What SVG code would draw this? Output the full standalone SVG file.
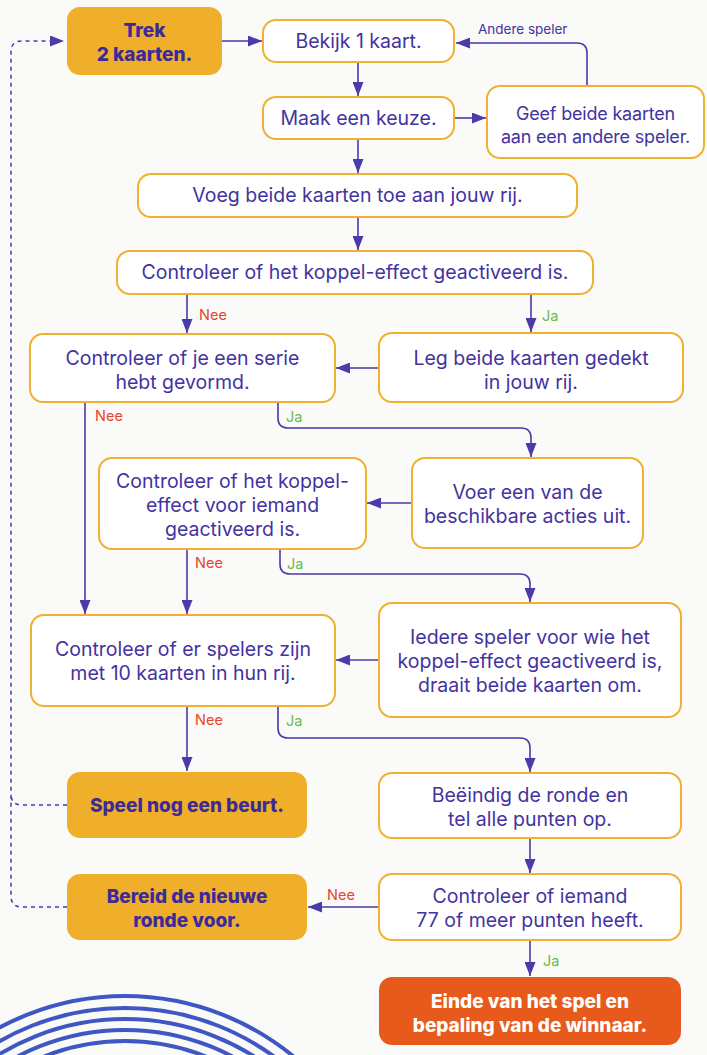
<svg xmlns="http://www.w3.org/2000/svg" width="707" height="1055" viewBox="0 0 707 1055">
<defs>
<style>
.box{fill:#FFFFFF;stroke:#F0B12E;stroke-width:2}
.obox{fill:#F0AF2B;stroke:none}
.rbox{fill:#E85A1C;stroke:none}
.t{font-family:Inter,"Open Sans",sans-serif;font-size:19.5px;fill:#43339F;text-anchor:middle}
.s{font-size:18px;letter-spacing:-0.2px}
.b{font-family:Inter,"Open Sans",sans-serif;font-size:19px;font-weight:800;fill:#3D2A99;text-anchor:middle}
.w{font-family:Inter,"Open Sans",sans-serif;font-size:19px;font-weight:800;fill:#FFFFFF;text-anchor:middle}
.c{fill:none;stroke:#4A3AAA;stroke-width:1.6}
.d{fill:none;stroke:#4A3AAA;stroke-width:1.5;stroke-dasharray:4 4}
.nee{font-family:Inter,"Open Sans",sans-serif;font-size:14.5px;fill:#E8452D}
.ja{font-family:Inter,"Open Sans",sans-serif;font-size:14.5px;fill:#6CBB4A}
.lbl{font-family:Inter,"Open Sans",sans-serif;font-size:13.5px;fill:#43339F}
.wave{fill:none;stroke:#3E57C4;stroke-width:4}
</style>
<marker id="ah" markerUnits="userSpaceOnUse" markerWidth="14" markerHeight="11" refX="14" refY="5.5" orient="auto">
<path d="M0,0 L14,5.5 L0,11 z" fill="#4A3AAA"/>
</marker>
</defs>
<rect width="707" height="1055" fill="#FAFAF8"/>
<g id="decor">
<path class="wave" d="M-140,1261 A265,265 0 0 1 390,1261"/>
<path class="wave" d="M-128,1261 A253,253 0 0 1 378,1261"/>
<path class="wave" d="M-117,1261 A242,242 0 0 1 367,1261"/>
<path class="wave" d="M-106,1261 A231,231 0 0 1 356,1261"/>
<path class="wave" d="M-95,1261 A220,220 0 0 1 345,1261"/>
</g>
<g id="connectors">
<path class="c" d="M222,41 H262" marker-end="url(#ah)"/>
<path class="c" d="M358,62 V96" marker-end="url(#ah)"/>
<path class="c" d="M454,118 H486" marker-end="url(#ah)"/>
<path class="c" d="M587,86 V53 Q587,43 577,43 H456" marker-end="url(#ah)"/>
<path class="c" d="M358,139 V173" marker-end="url(#ah)"/>
<path class="c" d="M358,217 V250" marker-end="url(#ah)"/>
<path class="c" d="M187,294 V333" marker-end="url(#ah)"/>
<path class="c" d="M531,294 V332" marker-end="url(#ah)"/>
<path class="c" d="M379,368 H336" marker-end="url(#ah)"/>
<path class="c" d="M85,402 V614" marker-end="url(#ah)"/>
<path class="c" d="M278,402 V418 Q278,428 288,428 H521 Q531,428 531,438 V457" marker-end="url(#ah)"/>
<path class="c" d="M412,503 H367" marker-end="url(#ah)"/>
<path class="c" d="M187,549 V614" marker-end="url(#ah)"/>
<path class="c" d="M280,549 V564 Q280,574 290,574 H520 Q530,574 530,584 V602" marker-end="url(#ah)"/>
<path class="c" d="M379,660 H336" marker-end="url(#ah)"/>
<path class="c" d="M187,706 V771" marker-end="url(#ah)"/>
<path class="c" d="M278,706 V728 Q278,738 288,738 H520 Q530,738 530,748 V772" marker-end="url(#ah)"/>
<path class="c" d="M530,838 V873" marker-end="url(#ah)"/>
<path class="c" d="M379,907 H308" marker-end="url(#ah)"/>
<path class="c" d="M530,940 V976" marker-end="url(#ah)"/>
<path class="d" d="M67,907 H22 Q11,907 11,896 V52 Q11,41 22,41 H64" marker-end="url(#ah)"/>
<path class="d" d="M67,805 H22 Q11,805 11,794"/>
<text class="lbl" x="478" y="34">Andere speler</text>
<text class="nee" x="199" y="320">Nee</text>
<text class="ja" x="542" y="321">Ja</text>
<text class="nee" x="95" y="421">Nee</text>
<text class="ja" x="286" y="422">Ja</text>
<text class="nee" x="195" y="568">Nee</text>
<text class="ja" x="287" y="569">Ja</text>
<text class="nee" x="195" y="725">Nee</text>
<text class="ja" x="286" y="726">Ja</text>
<text class="nee" x="327" y="900">Nee</text>
<text class="ja" x="543" y="966">Ja</text>
</g>
<g id="trek"><rect class="obox" x="67" y="7" width="155" height="68" rx="13"/><text class="b" x="144.5" y="37">Trek<tspan x="144.5" dy="24">2 kaarten.</tspan></text></g>
<g id="bekijk"><rect class="box" x="263" y="20" width="191" height="42" rx="13"/><text class="t" x="358.5" y="48">Bekijk 1 kaart.</text></g>
<g id="maak"><rect class="box" x="263" y="97" width="191" height="42" rx="13"/><text class="t" x="358.5" y="125">Maak een keuze.</text></g>
<g id="geef"><rect class="box" x="487" y="86" width="217" height="72" rx="13"/><text class="t s" x="595.5" y="120">Geef beide kaarten<tspan x="595.5" dy="23">aan een andere speler.</tspan></text></g>
<g id="voeg"><rect class="box" x="138" y="174" width="439" height="43" rx="13"/><text class="t" x="357.5" y="202">Voeg beide kaarten toe aan jouw rij.</text></g>
<g id="koppel"><rect class="box" x="117" y="251" width="476" height="43" rx="13"/><text class="t" x="355" y="279">Controleer of het koppel-effect geactiveerd is.</text></g>
<g id="serie"><rect class="box" x="30" y="334" width="305" height="68" rx="13"/><text class="t" x="182.5" y="365">Controleer of je een serie<tspan x="182.5" dy="24">hebt gevormd.</tspan></text></g>
<g id="leg"><rect class="box" x="379" y="333" width="304" height="69" rx="13"/><text class="t" x="531" y="365">Leg beide kaarten gedekt<tspan x="531" dy="24">in jouw rij.</tspan></text></g>
<g id="koppelvoor"><rect class="box" x="99" y="458" width="267" height="91" rx="13"/><text class="t" x="232.5" y="488">Controleer of het koppel-<tspan x="232.5" dy="24">effect voor iemand</tspan><tspan x="232.5" dy="24">geactiveerd is.</tspan></text></g>
<g id="voer"><rect class="box" x="412" y="458" width="231" height="90" rx="13"/><text class="t" x="527.5" y="499">Voer een van de<tspan x="527.5" dy="24">beschikbare acties uit.</tspan></text></g>
<g id="spelers"><rect class="box" x="31" y="615" width="304" height="91" rx="13"/><text class="t" x="183" y="656">Controleer of er spelers zijn<tspan x="183" dy="24">met 10 kaarten in hun rij.</tspan></text></g>
<g id="iedere"><rect class="box" x="379" y="603" width="302" height="114" rx="13"/><text class="t" x="530" y="644">Iedere speler voor wie het<tspan x="530" dy="24">koppel-effect geactiveerd is,</tspan><tspan x="530" dy="24">draait beide kaarten om.</tspan></text></g>
<g id="speel"><rect class="obox" x="67" y="772" width="240" height="66" rx="13"/><text class="b" x="187" y="812">Speel nog een beurt.</text></g>
<g id="beeindig"><rect class="box" x="379" y="773" width="302" height="65" rx="13"/><text class="t" x="530" y="802">Beëindig de ronde en<tspan x="530" dy="24">tel alle punten op.</tspan></text></g>
<g id="bereid"><rect class="obox" x="67" y="874" width="240" height="66" rx="13"/><text class="b" x="187" y="903">Bereid de nieuwe<tspan x="187" dy="24">ronde voor.</tspan></text></g>
<g id="controleer77"><rect class="box" x="379" y="874" width="302" height="66" rx="13"/><text class="t" x="530" y="903">Controleer of iemand<tspan x="530" dy="24">77 of meer punten heeft.</tspan></text></g>
<g id="einde"><rect class="rbox" x="379" y="977" width="302" height="68" rx="13"/><text class="w" x="530" y="1008">Einde van het spel en<tspan x="530" dy="24">bepaling van de winnaar.</tspan></text></g>
</svg>
